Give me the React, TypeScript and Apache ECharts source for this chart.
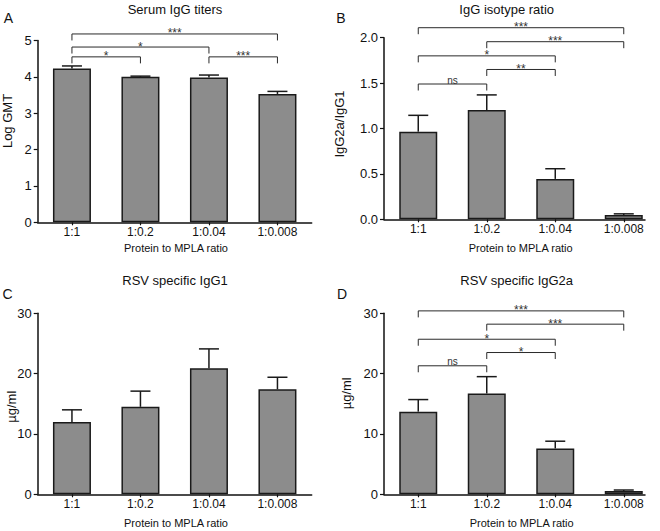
import React, { useEffect, useRef } from "react";
import * as echarts from "echarts";

// ---- data ----
const categories = ["1:1", "1:0.2", "1:0.04", "1:0.008"];

const titerMeans = [4.23, 4.0, 3.98, 3.53];
const titerSem = [0.07, 0.02, 0.07, 0.07];

const ratioMeans = [0.965, 1.205, 0.445, 0.047];
const ratioSem = [0.18, 0.165, 0.112, 0.013];

const igg1Means = [12.0, 14.5, 20.9, 17.4];
const igg1Sem = [2.0, 2.6, 3.2, 2.0];

const igg2aMeans = [13.7, 16.7, 7.6, 0.55];
const igg2aSem = [2.0, 2.8, 1.2, 0.16];

// significance brackets: [fromIndex, toIndex, height, label]
const titerBrackets: [number, number, number, string][] = [
  [0, 3, 5.18, "***"],
  [0, 2, 4.82, "*"],
  [0, 1, 4.55, "*"],
  [2, 3, 4.55, "***"],
];
const ratioBrackets: [number, number, number, string][] = [
  [0, 3, 2.11, "***"],
  [1, 3, 1.956, "***"],
  [0, 2, 1.8, "*"],
  [1, 2, 1.65, "**"],
  [0, 1, 1.49, "ns"],
];
const igg1Brackets: [number, number, number, string][] = [];
const igg2aBrackets: [number, number, number, string][] = [
  [0, 3, 30.4, "***"],
  [1, 3, 28.2, "***"],
  [0, 2, 25.7, "*"],
  [1, 2, 23.5, "*"],
  [0, 1, 21.3, "ns"],
];

const FONT = "'Liberation Sans', Arial, Helvetica, sans-serif";
const INK = "#111";
const BAR_FILL = "#8c8c8c";
const BAR_EDGE = "#1a1a1a";

type Panel = {
  letter: string;
  title: string;
  yName: string;
  means: number[];
  sem: number[];
  brackets: [number, number, number, string][];
  yMax: number;
  yInterval: number;
  decimals: number;
  grid: { left: number; top: number; width: number; height: number };
  xMax: number;
  letterPos: [number, number];
  titlePos: [number, number];
  xNamePos: [number, number];
  yNamePos: [number, number];
};

const panels: Panel[] = [
  {
    letter: "A",
    title: "Serum IgG titers",
    yName: "Log GMT",
    means: titerMeans,
    sem: titerSem,
    brackets: titerBrackets,
    yMax: 5,
    yInterval: 1,
    decimals: 0,
    grid: { left: 37.7, top: 40.5, width: 274, height: 181.8 },
    xMax: 3.5,
    letterPos: [8.3, 18],
    titlePos: [175, 9.5],
    xNamePos: [176, 248],
    yNamePos: [7.5, 121],
  },
  {
    letter: "B",
    title: "IgG isotype ratio",
    yName: "IgG2a/IgG1",
    means: ratioMeans,
    sem: ratioSem,
    brackets: ratioBrackets,
    yMax: 2,
    yInterval: 0.5,
    decimals: 1,
    grid: { left: 384, top: 37.7, width: 261, height: 181.6 },
    xMax: 3.31,
    letterPos: [341, 17.5],
    titlePos: [506.7, 9.5],
    xNamePos: [520.7, 247.5],
    yNamePos: [339.5, 124],
  },
  {
    letter: "C",
    title: "RSV specific IgG1",
    yName: "µg/ml",
    means: igg1Means,
    sem: igg1Sem,
    brackets: igg1Brackets,
    yMax: 30,
    yInterval: 10,
    decimals: 0,
    grid: { left: 37.7, top: 313.3, width: 274, height: 181 },
    xMax: 3.5,
    letterPos: [7.5, 294],
    titlePos: [175, 280],
    xNamePos: [176, 523],
    yNamePos: [11.7, 406.7],
  },
  {
    letter: "D",
    title: "RSV specific IgG2a",
    yName: "µg/ml",
    means: igg2aMeans,
    sem: igg2aSem,
    brackets: igg2aBrackets,
    yMax: 30,
    yInterval: 10,
    decimals: 0,
    grid: { left: 384, top: 313.3, width: 261, height: 181 },
    xMax: 3.31,
    letterPos: [342, 294],
    titlePos: [516.7, 280],
    xNamePos: [521.7, 522.5],
    yNamePos: [346, 393.3],
  },
];

function textEl(
  text: string,
  x: number,
  y: number,
  size: number,
  rotation = 0
) {
  return {
    type: "text",
    x,
    y,
    rotation,
    silent: true,
    style: {
      text,
      fill: INK,
      font: `${size}px ${FONT}`,
      align: "center",
      verticalAlign: "middle",
      textAlign: "center",
      textVerticalAlign: "middle",
    },
  };
}

function buildOption() {
  const catIdx = categories.map((_, i) => i);
  const axisLine = { show: true, onZero: false, lineStyle: { color: INK, width: 1.5 } };

  const grid = panels.map((p) => ({ ...p.grid, outerBoundsMode: "none", containLabel: false }));

  const xAxis = panels.map((p, i) => ({
    type: "value",
    gridIndex: i,
    min: -0.5,
    max: p.xMax,
    axisLine,
    axisTick: { show: true, length: 3, customValues: catIdx, lineStyle: { color: INK, width: 1.2 } },
    axisLabel: {
      customValues: catIdx,
      formatter: (v: number) => categories[Math.round(v)] ?? "",
      margin: 4,
      color: INK,
      fontSize: 12,
      fontFamily: FONT,
    },
    splitLine: { show: false },
  }));

  const yAxis = panels.map((p, i) => ({
    type: "value",
    gridIndex: i,
    min: 0,
    max: p.yMax,
    interval: p.yInterval,
    axisLine,
    axisTick: { show: true, length: 4, lineStyle: { color: INK, width: 1.2 } },
    axisLabel: {
      margin: 6,
      color: INK,
      fontSize: 13,
      fontFamily: FONT,
      formatter: (v: number) => v.toFixed(p.decimals),
    },
    splitLine: { show: false },
  }));

  const series: any[] = [];
  panels.forEach((p, i) => {
    series.push({
      type: "bar",
      xAxisIndex: i,
      yAxisIndex: i,
      barWidth: 38,
      data: p.means.map((m, j) => [j, m]),
      itemStyle: { color: BAR_FILL, borderColor: BAR_EDGE, borderWidth: 1.5 },
      z: 2,
      silent: true,
    });
    series.push({
      type: "custom",
      xAxisIndex: i,
      yAxisIndex: i,
      clip: false,
      z: 3,
      silent: true,
      encode: { x: 0, y: [1, 2] },
      data: p.means.map((m, j) => [j, m, m + p.sem[j]]),
      renderItem: (_params: any, api: any) => {
        const x = api.value(0);
        const p0 = api.coord([x, api.value(1)]);
        const p1 = api.coord([x, api.value(2)]);
        const half = 10;
        const style = { stroke: BAR_EDGE, lineWidth: 1.5, fill: "none" };
        return {
          type: "group",
          children: [
            { type: "line", shape: { x1: p0[0], y1: p0[1], x2: p1[0], y2: p1[1] }, style },
            { type: "line", shape: { x1: p1[0] - half, y1: p1[1], x2: p1[0] + half, y2: p1[1] }, style },
          ],
        };
      },
    });
    if (p.brackets.length) {
      const br = p.brackets;
      series.push({
        type: "custom",
        xAxisIndex: i,
        yAxisIndex: i,
        clip: false,
        z: 4,
        silent: true,
        encode: { x: [0, 1], y: 2 },
        data: br.map((b) => [b[0], b[1], b[2]]),
        renderItem: (params: any, api: any) => {
          const label = br[params.dataIndex][3];
          const a = api.coord([api.value(0), api.value(2)]);
          const b = api.coord([api.value(1), api.value(2)]);
          const drop = 6.5;
          const isNs = label === "ns";
          return {
            type: "group",
            children: [
              {
                type: "polyline",
                shape: {
                  points: [
                    [a[0], a[1] + drop],
                    [a[0], a[1]],
                    [b[0], b[1]],
                    [b[0], b[1] + drop],
                  ],
                },
                style: { stroke: "#2a2a2a", lineWidth: 1, fill: "none" },
              },
              {
                type: "text",
                x: (a[0] + b[0]) / 2,
                y: isNs ? a[1] + 1 : a[1] - 0.5,
                style: {
                  text: label,
                  fill: "#333",
                  font: `${isNs ? 10 : 12}px ${FONT}`,
                  align: "center",
                  verticalAlign: isNs ? "bottom" : "middle",
                  textAlign: "center",
                  textVerticalAlign: isNs ? "bottom" : "middle",
                },
              },
            ],
          };
        },
      });
    }
  });

  const graphic: any[] = [];
  panels.forEach((p) => {
    graphic.push(textEl(p.letter, p.letterPos[0], p.letterPos[1], 14));
    graphic.push(textEl(p.title, p.titlePos[0], p.titlePos[1], 13));
    graphic.push(textEl("Protein to MPLA ratio", p.xNamePos[0], p.xNamePos[1], 11));
    graphic.push(textEl(p.yName, p.yNamePos[0], p.yNamePos[1], 13, Math.PI / 2));
  });

  return {
    animation: false,
    backgroundColor: "#ffffff",
    textStyle: { fontFamily: FONT },
    grid,
    xAxis,
    yAxis,
    series,
    graphic,
  };
}

export default function App() {
  const ref = useRef<HTMLDivElement>(null);
  useEffect(() => {
    if (!ref.current) return;
    const chart = echarts.init(ref.current, undefined, { renderer: "svg" });
    chart.setOption(buildOption() as any);
    return () => chart.dispose();
  }, []);
  return (
    <div
      ref={ref}
      style={{ position: "fixed", left: 0, top: 0, width: 660, height: 531, background: "#fff" }}
    />
  );
}
